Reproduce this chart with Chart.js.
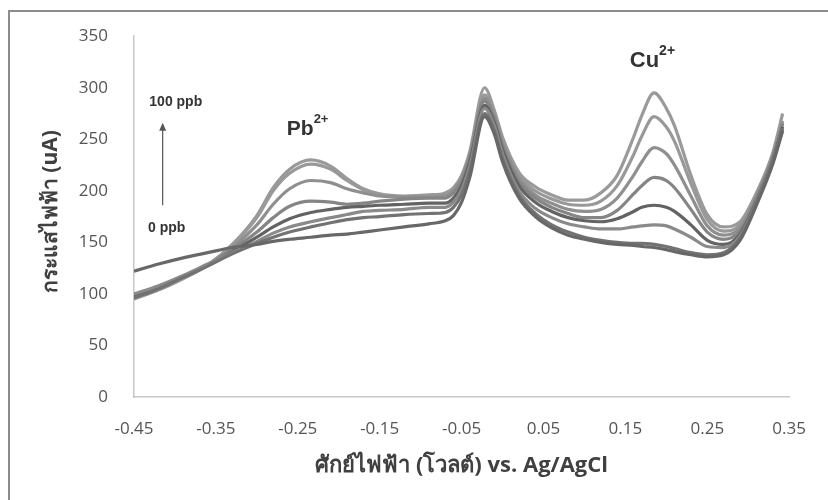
<!DOCTYPE html>
<html>
<head>
<meta charset="utf-8">
<script src="https://cdn.jsdelivr.net/npm/chart.js@4.4.1/dist/chart.umd.min.js"></script>
<style>
  html, body { margin: 0; padding: 0; background: #fff; overflow: hidden; }
  #wrap { position: relative; width: 828px; height: 500px; }
  #frame { position: absolute; left: 8px; top: 10px; width: 900px; height: 600px;
           border-left: 2px solid #8c8c8c; border-top: 2px solid #8c8c8c; }
  canvas { position: absolute; left: 0; top: 0; }
</style>
</head>
<body>
<div id="wrap">
  <div id="frame"></div>
  <canvas id="c" width="828" height="500"></canvas>
</div>
<script>
// Potential (V vs Ag/AgCl)
const potential = [-0.45, -0.42, -0.39, -0.36, -0.33, -0.30, -0.28, -0.26, -0.234, -0.21, -0.19, -0.17, -0.15, -0.12, -0.09, -0.07, -0.06, -0.05, -0.04, -0.022, -0.01, 0.0, 0.02, 0.04, 0.06, 0.08, 0.10, 0.12, 0.14, 0.16, 0.17, 0.185, 0.20, 0.21, 0.23, 0.25, 0.27, 0.29, 0.31, 0.33, 0.342];

// Current (uA) for each concentration, 0 ppb -> 100 ppb
const c0 = [122, 129, 135, 140, 145, 148, 151, 153, 155, 157, 158, 160, 162, 165, 168, 171, 176, 189, 213, 272, 255, 228, 193, 175, 164, 157, 153, 150, 148, 147, 146, 145, 143, 141, 138, 136, 138, 152, 186, 226, 258];
const c1 = [96, 105, 116, 127, 139, 149, 155, 160, 165, 169, 172, 174, 175, 177, 178, 179, 184, 196, 219, 275, 258, 231, 196, 178, 167, 160, 155, 152, 150, 149, 149, 148, 146, 144, 140, 138, 140, 154, 188, 228, 260];
const c2 = [100, 108, 118, 129, 140, 151, 159, 165, 170, 174, 177, 180, 181, 182, 184, 184, 189, 201, 224, 280, 263, 236, 200, 183, 174, 168, 165, 163, 163, 165, 166, 167, 166, 163, 155, 146, 145, 156, 189, 229, 260];
const c3 = [99, 107, 117, 128, 141, 155, 165, 173, 179, 182, 184, 185, 186, 187, 188, 188, 193, 205, 228, 283, 266, 240, 205, 189, 180, 174, 171, 170, 173, 180, 184, 186, 184, 180, 167, 152, 148, 158, 190, 230, 262];
const c4 = [98, 106, 116, 128, 143, 160, 174, 185, 190, 189, 187, 188, 190, 192, 193, 193, 198, 209, 232, 287, 270, 243, 209, 193, 184, 178, 174, 174, 181, 197, 205, 213, 210, 203, 182, 160, 153, 161, 192, 232, 265];
const c5 = [97, 105, 116, 128, 145, 167, 187, 202, 210, 208, 202, 198, 195, 194, 194, 195, 200, 211, 234, 290, 272, 246, 212, 196, 188, 182, 180, 182, 193, 215, 228, 242, 236, 225, 195, 166, 157, 164, 194, 233, 266];
const c6 = [96, 104, 115, 128, 147, 174, 200, 217, 226, 221, 210, 201, 196, 194, 195, 197, 202, 213, 236, 293, 275, 249, 215, 200, 192, 187, 186, 190, 205, 235, 253, 272, 262, 248, 207, 172, 161, 167, 196, 235, 268];
const c7 = [95, 104, 115, 128, 148, 176, 203, 221, 230, 224, 212, 202, 197, 195, 196, 198, 203, 215, 238, 300, 278, 252, 218, 204, 196, 191, 191, 198, 215, 252, 273, 295, 280, 263, 215, 177, 165, 170, 198, 237, 275];

const seriesNames = ['0 ppb', 'c1', 'c2', 'c3', 'c4', 'c5', 'c6', '100 ppb'];
const seriesValues = [c0, c1, c2, c3, c4, c5, c6, c7];
const seriesColors = ['#686868', '#727272', '#8a8a8a', '#636363', '#858585', '#8f8f8f', '#999999', '#9a9a9a'];

const xTicks = [-0.45, -0.35, -0.25, -0.15, -0.05, 0.05, 0.15, 0.25, 0.35];
const yTicks = [0, 50, 100, 150, 200, 250, 300, 350];

const xTitle = 'ศักย์ไฟฟ้า (โวลต์) vs. Ag/AgCl';
const yTitle = 'กระแสไฟฟ้า (uA)';

const notes = [
  { text: 'Cu', sup: '2+', x: 0.183, y: 326, size: 22 },
  { text: 'Pb', sup: '2+', x: -0.238, y: 260, size: 21 },
  { text: '100 ppb', x: -0.399, y: 286, size: 14 },
  { text: '0 ppb', x: -0.41, y: 164, size: 14 }
];
const arrow = { x: -0.415, from: 186, to: 266 };

const tickFont = "'Liberation Sans Narrow', 'Open Sans', 'Liberation Sans', sans-serif";
const titleFont = "'Open Sans', 'Noto Sans', 'DejaVu Sans', sans-serif";

const annot = {
  id: 'annot',
  afterDatasetsDraw(chart) {
    const ctx = chart.ctx, xs = chart.scales.x, ys = chart.scales.y;
    ctx.save();
    ctx.fillStyle = '#333';
    ctx.textBaseline = 'middle';
    notes.forEach(n => {
      const px = xs.getPixelForValue(n.x), py = ys.getPixelForValue(n.y);
      ctx.font = 'bold ' + n.size + "px 'Liberation Sans', Arial, sans-serif";
      const w = ctx.measureText(n.text).width;
      let sw = 0;
      if (n.sup) {
        ctx.font = 'bold ' + Math.round(n.size * 0.62) + "px 'Liberation Sans', Arial, sans-serif";
        sw = ctx.measureText(n.sup).width;
      }
      const left = px - (w + sw) / 2;
      ctx.font = 'bold ' + n.size + "px 'Liberation Sans', Arial, sans-serif";
      ctx.textAlign = 'left';
      ctx.fillText(n.text, left, py);
      if (n.sup) {
        ctx.font = 'bold ' + Math.round(n.size * 0.62) + "px 'Liberation Sans', Arial, sans-serif";
        ctx.fillText(n.sup, left + w, py - n.size * 0.45);
      }
    });
    // arrow
    const ax = xs.getPixelForValue(arrow.x);
    const y0 = ys.getPixelForValue(arrow.from), y1 = ys.getPixelForValue(arrow.to);
    ctx.strokeStyle = '#555';
    ctx.lineWidth = 1.2;
    ctx.beginPath(); ctx.moveTo(ax, y0); ctx.lineTo(ax, y1 + 5); ctx.stroke();
    ctx.fillStyle = '#555';
    ctx.beginPath(); ctx.moveTo(ax, y1); ctx.lineTo(ax - 3.5, y1 + 8); ctx.lineTo(ax + 3.5, y1 + 8); ctx.closePath(); ctx.fill();
    ctx.restore();
    // y axis title
    ctx.save();
    const cy = (chart.chartArea.top + chart.chartArea.bottom) / 2;
    ctx.setTransform(1, 0, 0, 1, 0, 0);
    ctx.translate(57, cy - 5);
    ctx.rotate(-Math.PI / 2);
    ctx.textAlign = 'center';
    ctx.textBaseline = 'alphabetic';
    ctx.fillStyle = '#404040';
    ctx.font = "bold 21px " + titleFont;
    ctx.fillText(yTitle, 0, 0);
    ctx.restore();
  }
};

new Chart(document.getElementById('c'), {
  type: 'scatter',
  data: {
    datasets: seriesValues.map((vals, i) => ({
      label: seriesNames[i],
      data: potential.map((p, j) => ({ x: p, y: vals[j] })),
      showLine: true,
      borderColor: seriesColors[i],
      backgroundColor: seriesColors[i],
      borderWidth: 3.2,
      pointRadius: 0,
      cubicInterpolationMode: 'monotone',
      fill: false
    }))
  },
  options: {
    responsive: false,
    animation: false,
    devicePixelRatio: 1,
    layout: { padding: { left: 0, right: 31, top: 33, bottom: 0 } },
    plugins: { legend: { display: false }, tooltip: { enabled: false } },
    scales: {
      x: {
        type: 'linear',
        min: -0.45, max: 0.35,
        afterBuildTicks: s => { s.ticks = xTicks.map(v => ({ value: v })); },
        afterFit: s => { s.height = 103; },
        grid: { display: false, drawTicks: false },
        border: { display: true, color: '#c8c8c8', width: 1.5 },
        ticks: {
          padding: 22, color: '#555', maxRotation: 0, autoSkip: false,
          font: { size: 17, family: tickFont },
          callback: v => v.toFixed(2)
        },
        title: {
          display: true, text: xTitle, color: '#404040',
          font: { size: 22, weight: 'bold', family: titleFont },
          padding: 21
        }
      },
      y: {
        min: 0, max: 350,
        afterBuildTicks: s => { s.ticks = yTicks.map(v => ({ value: v })); },
        afterFit: s => { s.width = 134; },
        grid: { display: false, drawTicks: false },
        border: { display: true, color: '#c8c8c8', width: 1.5 },
        ticks: { padding: 26, color: '#555', font: { size: 17, family: tickFont } },
        title: { display: false, text: yTitle }
      }
    }
  },
  plugins: [annot]
});
</script>
</body>
</html>
